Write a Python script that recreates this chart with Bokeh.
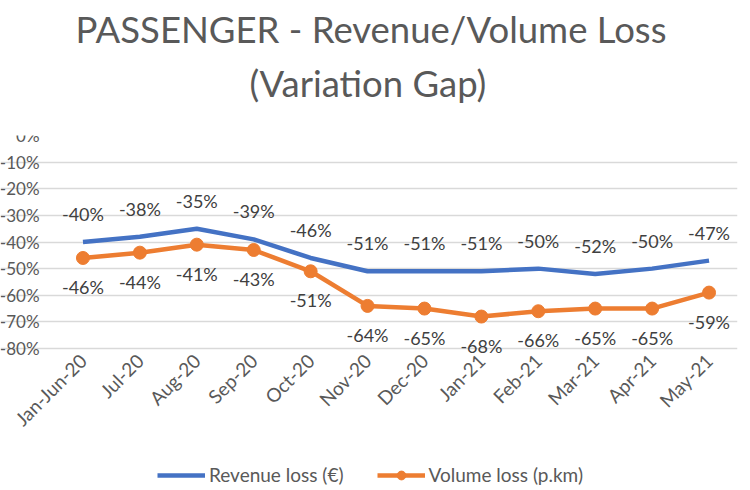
import math
from bokeh.plotting import figure
from bokeh.models import (ColumnDataSource, LabelSet, Legend, LegendItem, FixedTicker,
                          PrintfTickFormatter, Title, Range1d)
from bokeh.core.properties import value
from bokeh.embed import file_html
from bokeh.resources import INLINE

months = ["Jan-Jun-20", "Jul-20", "Aug-20", "Sep-20", "Oct-20", "Nov-20",
          "Dec-20", "Jan-21", "Feb-21", "Mar-21", "Apr-21", "May-21"]
revenue_loss = [-40, -38, -35, -39, -46, -51, -51, -51, -50, -52, -50, -47]
volume_loss = [-46, -44, -41, -43, -51, -64, -65, -68, -66, -65, -65, -59]
y_ticks = [0, -10, -20, -30, -40, -50, -60, -70, -80]

FONT = "Lato"
GREY = "#595959"
BLUE = "#4472C4"
ORANGE = "#ED7D31"

idx = list(range(len(months)))
src = ColumnDataSource(dict(
    x=idx, rev=revenue_loss, vol=volume_loss,
    rev_lbl=[f"{v}%" for v in revenue_loss],
    vol_lbl=[f"{v}%" for v in volume_loss],
))

# frame spans the whole width/height so that axis labels and legend drawn
# inside it are not clipped; grid lines are bounded to the category area
X_LEFT = -1.4488
X_RIGHT = len(months) - 0.5
Y_MIN = -132.2
AXIS_AT = -84
p = figure(x_range=Range1d(X_LEFT, X_RIGHT), y_range=Range1d(Y_MIN, 0),
           frame_width=737, frame_height=352,
           output_backend="svg", toolbar_location=None,
           min_border_left=0, min_border_right=1, min_border_top=135,
           min_border_bottom=0)
p.outline_line_color = None
p.background_fill_color = "white"
p.border_fill_color = "white"

t2 = Title(text="(Variation Gap)", align="left", offset=249,
           text_font=FONT, text_font_size="36.5px", text_font_style="normal",
           text_color=GREY, standoff=62)
t1 = Title(text="PASSENGER - Revenue/Volume Loss", align="left", offset=75,
           text_font=FONT, text_font_size="36.5px", text_font_style="normal",
           text_color=GREY, standoff=-46)
p.add_layout(t2, "above")
p.add_layout(t1, "above")

p.xgrid.grid_line_color = None
p.ygrid.grid_line_color = "#D9D9D9"
p.ygrid.grid_line_width = 1.5
p.ygrid.bounds = (-0.5, X_RIGHT)

p.yaxis.ticker = FixedTicker(ticks=y_ticks)
p.yaxis.formatter = PrintfTickFormatter(format="%d%%")
p.xaxis.ticker = FixedTicker(ticks=idx)
p.xaxis.major_label_overrides = {i: m for i, m in zip(idx, months)}
for ax in (p.xaxis, p.yaxis):
    ax.axis_line_color = None
    ax.major_tick_line_color = None
    ax.minor_tick_line_color = None
    ax.major_tick_out = 0
    ax.major_tick_in = 0
    ax.major_label_text_font = FONT
    ax.major_label_text_font_size = "17px"
    ax.major_label_text_color = GREY
p.xaxis.major_label_text_font_size = "19px"
p.xaxis.fixed_location = AXIS_AT
p.yaxis.fixed_location = -0.5
p.yaxis.major_label_standoff = 15
p.xaxis.major_label_orientation = math.pi / 4
p.xaxis.major_label_standoff = -2

r_rev = p.line("x", "rev", source=src, line_color=BLUE, line_width=4.5)
r_vol = p.line("x", "vol", source=src, line_color=ORANGE, line_width=4.5)
r_volc = p.scatter("x", "vol", source=src, size=13, fill_color=ORANGE, line_color=ORANGE)

p.add_layout(LabelSet(x="x", y="rev", text="rev_lbl", source=src, y_offset=28,
                      text_align="center", text_baseline="middle",
                      text_font=value(FONT), text_font_size=value("18px"),
                      text_color="#404040"))
p.add_layout(LabelSet(x="x", y="vol", text="vol_lbl", source=src, y_offset=-29,
                      text_align="center", text_baseline="middle",
                      text_font=value(FONT), text_font_size=value("18px"),
                      text_color="#404040"))

legend = Legend(items=[LegendItem(label="Revenue loss (€)", renderers=[r_rev]),
                       LegendItem(label="Volume loss (p.km)", renderers=[r_vol, r_volc])],
                orientation="horizontal", location=(157, 1),
                label_text_font=FONT, label_text_font_size="19px", label_text_color=GREY,
                glyph_width=48, glyph_height=22, spacing=33, label_standoff=4,
                border_line_color=None, background_fill_alpha=0, margin=0, padding=0)
p.add_layout(legend, "center")

open("out.html", "w").write(file_html(p, INLINE))
